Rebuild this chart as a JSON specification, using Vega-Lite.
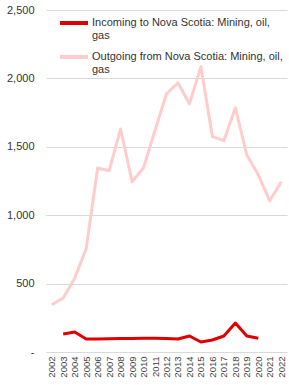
{
  "$schema": "https://vega.github.io/schema/vega-lite/v6.json",
  "autosize": "none",
  "width": 241,
  "height": 342,
  "padding": {"left": 46, "top": 10, "right": 2, "bottom": 33},
  "background": "white",
  "config": {
    "view": {"stroke": null},
    "font": "Liberation Sans"
  },
  "data": {
    "values": [
      {"year": "2002", "series": "Outgoing from Nova Scotia: Mining, oil, gas", "value": 345},
      {"year": "2003", "series": "Outgoing from Nova Scotia: Mining, oil, gas", "value": 395},
      {"year": "2004", "series": "Outgoing from Nova Scotia: Mining, oil, gas", "value": 540},
      {"year": "2005", "series": "Outgoing from Nova Scotia: Mining, oil, gas", "value": 755},
      {"year": "2006", "series": "Outgoing from Nova Scotia: Mining, oil, gas", "value": 1345},
      {"year": "2007", "series": "Outgoing from Nova Scotia: Mining, oil, gas", "value": 1325},
      {"year": "2008", "series": "Outgoing from Nova Scotia: Mining, oil, gas", "value": 1630},
      {"year": "2009", "series": "Outgoing from Nova Scotia: Mining, oil, gas", "value": 1245},
      {"year": "2010", "series": "Outgoing from Nova Scotia: Mining, oil, gas", "value": 1347},
      {"year": "2011", "series": "Outgoing from Nova Scotia: Mining, oil, gas", "value": 1620},
      {"year": "2012", "series": "Outgoing from Nova Scotia: Mining, oil, gas", "value": 1888},
      {"year": "2013", "series": "Outgoing from Nova Scotia: Mining, oil, gas", "value": 1967},
      {"year": "2014", "series": "Outgoing from Nova Scotia: Mining, oil, gas", "value": 1815},
      {"year": "2015", "series": "Outgoing from Nova Scotia: Mining, oil, gas", "value": 2086},
      {"year": "2016", "series": "Outgoing from Nova Scotia: Mining, oil, gas", "value": 1575},
      {"year": "2017", "series": "Outgoing from Nova Scotia: Mining, oil, gas", "value": 1545},
      {"year": "2018", "series": "Outgoing from Nova Scotia: Mining, oil, gas", "value": 1785},
      {"year": "2019", "series": "Outgoing from Nova Scotia: Mining, oil, gas", "value": 1440},
      {"year": "2020", "series": "Outgoing from Nova Scotia: Mining, oil, gas", "value": 1295},
      {"year": "2021", "series": "Outgoing from Nova Scotia: Mining, oil, gas", "value": 1105},
      {"year": "2022", "series": "Outgoing from Nova Scotia: Mining, oil, gas", "value": 1245},
      {"year": "2003", "series": "Incoming to Nova Scotia: Mining, oil, gas", "value": 132},
      {"year": "2004", "series": "Incoming to Nova Scotia: Mining, oil, gas", "value": 146},
      {"year": "2005", "series": "Incoming to Nova Scotia: Mining, oil, gas", "value": 95},
      {"year": "2006", "series": "Incoming to Nova Scotia: Mining, oil, gas", "value": 95},
      {"year": "2007", "series": "Incoming to Nova Scotia: Mining, oil, gas", "value": 97},
      {"year": "2008", "series": "Incoming to Nova Scotia: Mining, oil, gas", "value": 98},
      {"year": "2009", "series": "Incoming to Nova Scotia: Mining, oil, gas", "value": 98},
      {"year": "2010", "series": "Incoming to Nova Scotia: Mining, oil, gas", "value": 100},
      {"year": "2011", "series": "Incoming to Nova Scotia: Mining, oil, gas", "value": 100},
      {"year": "2012", "series": "Incoming to Nova Scotia: Mining, oil, gas", "value": 98},
      {"year": "2013", "series": "Incoming to Nova Scotia: Mining, oil, gas", "value": 95},
      {"year": "2014", "series": "Incoming to Nova Scotia: Mining, oil, gas", "value": 117},
      {"year": "2015", "series": "Incoming to Nova Scotia: Mining, oil, gas", "value": 73},
      {"year": "2016", "series": "Incoming to Nova Scotia: Mining, oil, gas", "value": 88},
      {"year": "2017", "series": "Incoming to Nova Scotia: Mining, oil, gas", "value": 117},
      {"year": "2018", "series": "Incoming to Nova Scotia: Mining, oil, gas", "value": 212},
      {"year": "2019", "series": "Incoming to Nova Scotia: Mining, oil, gas", "value": 117},
      {"year": "2020", "series": "Incoming to Nova Scotia: Mining, oil, gas", "value": 100}
    ]
  },
  "mark": {"type": "line", "strokeWidth": 3, "strokeJoin": "round"},
  "encoding": {
    "x": {
      "field": "year",
      "type": "ordinal",
      "scale": {"type": "point", "padding": 0.5},
      "axis": {
        "title": null,
        "labelAngle": -90,
        "labelFontSize": 9.5,
        "labelColor": "#444444",
        "labelPadding": 4,
        "ticks": false,
        "domain": false,
        "grid": false
      }
    },
    "y": {
      "field": "value",
      "type": "quantitative",
      "scale": {"domain": [0, 2500], "nice": false},
      "axis": {
        "title": null,
        "values": [0, 500, 1000, 1500, 2000, 2500],
        "labelExpr": "datum.value == 0 ? '-  ' : format(datum.value, ',')",
        "labelFontSize": 11,
        "labelColor": "#333333",
        "labelPadding": 12,
        "ticks": false,
        "domain": false,
        "grid": true,
        "gridColor": "#D9D9D9",
        "gridWidth": 1
      }
    },
    "color": {
      "field": "series",
      "type": "nominal",
      "scale": {
        "domain": ["Incoming to Nova Scotia: Mining, oil, gas", "Outgoing from Nova Scotia: Mining, oil, gas"],
        "range": ["#E00000", "#FFCCCC"]
      },
      "legend": {
        "title": null,
        "orient": "none",
        "legendX": 12,
        "legendY": -3,
        "symbolType": "stroke",
        "symbolStrokeWidth": 4,
        "symbolSize": 784,
        "labelFontSize": 11,
        "labelColor": "#333333",
        "labelLimit": 300,
        "labelOffset": 2,
        "labelBaseline": "middle",
        "rowPadding": 0,
        "labelExpr": "datum.label == 'Incoming to Nova Scotia: Mining, oil, gas' ? ['Incoming to Nova Scotia: Mining, oil,', 'gas'] : ['Outgoing from Nova Scotia: Mining, oil,', 'gas']"
      }
    }
  }
}
